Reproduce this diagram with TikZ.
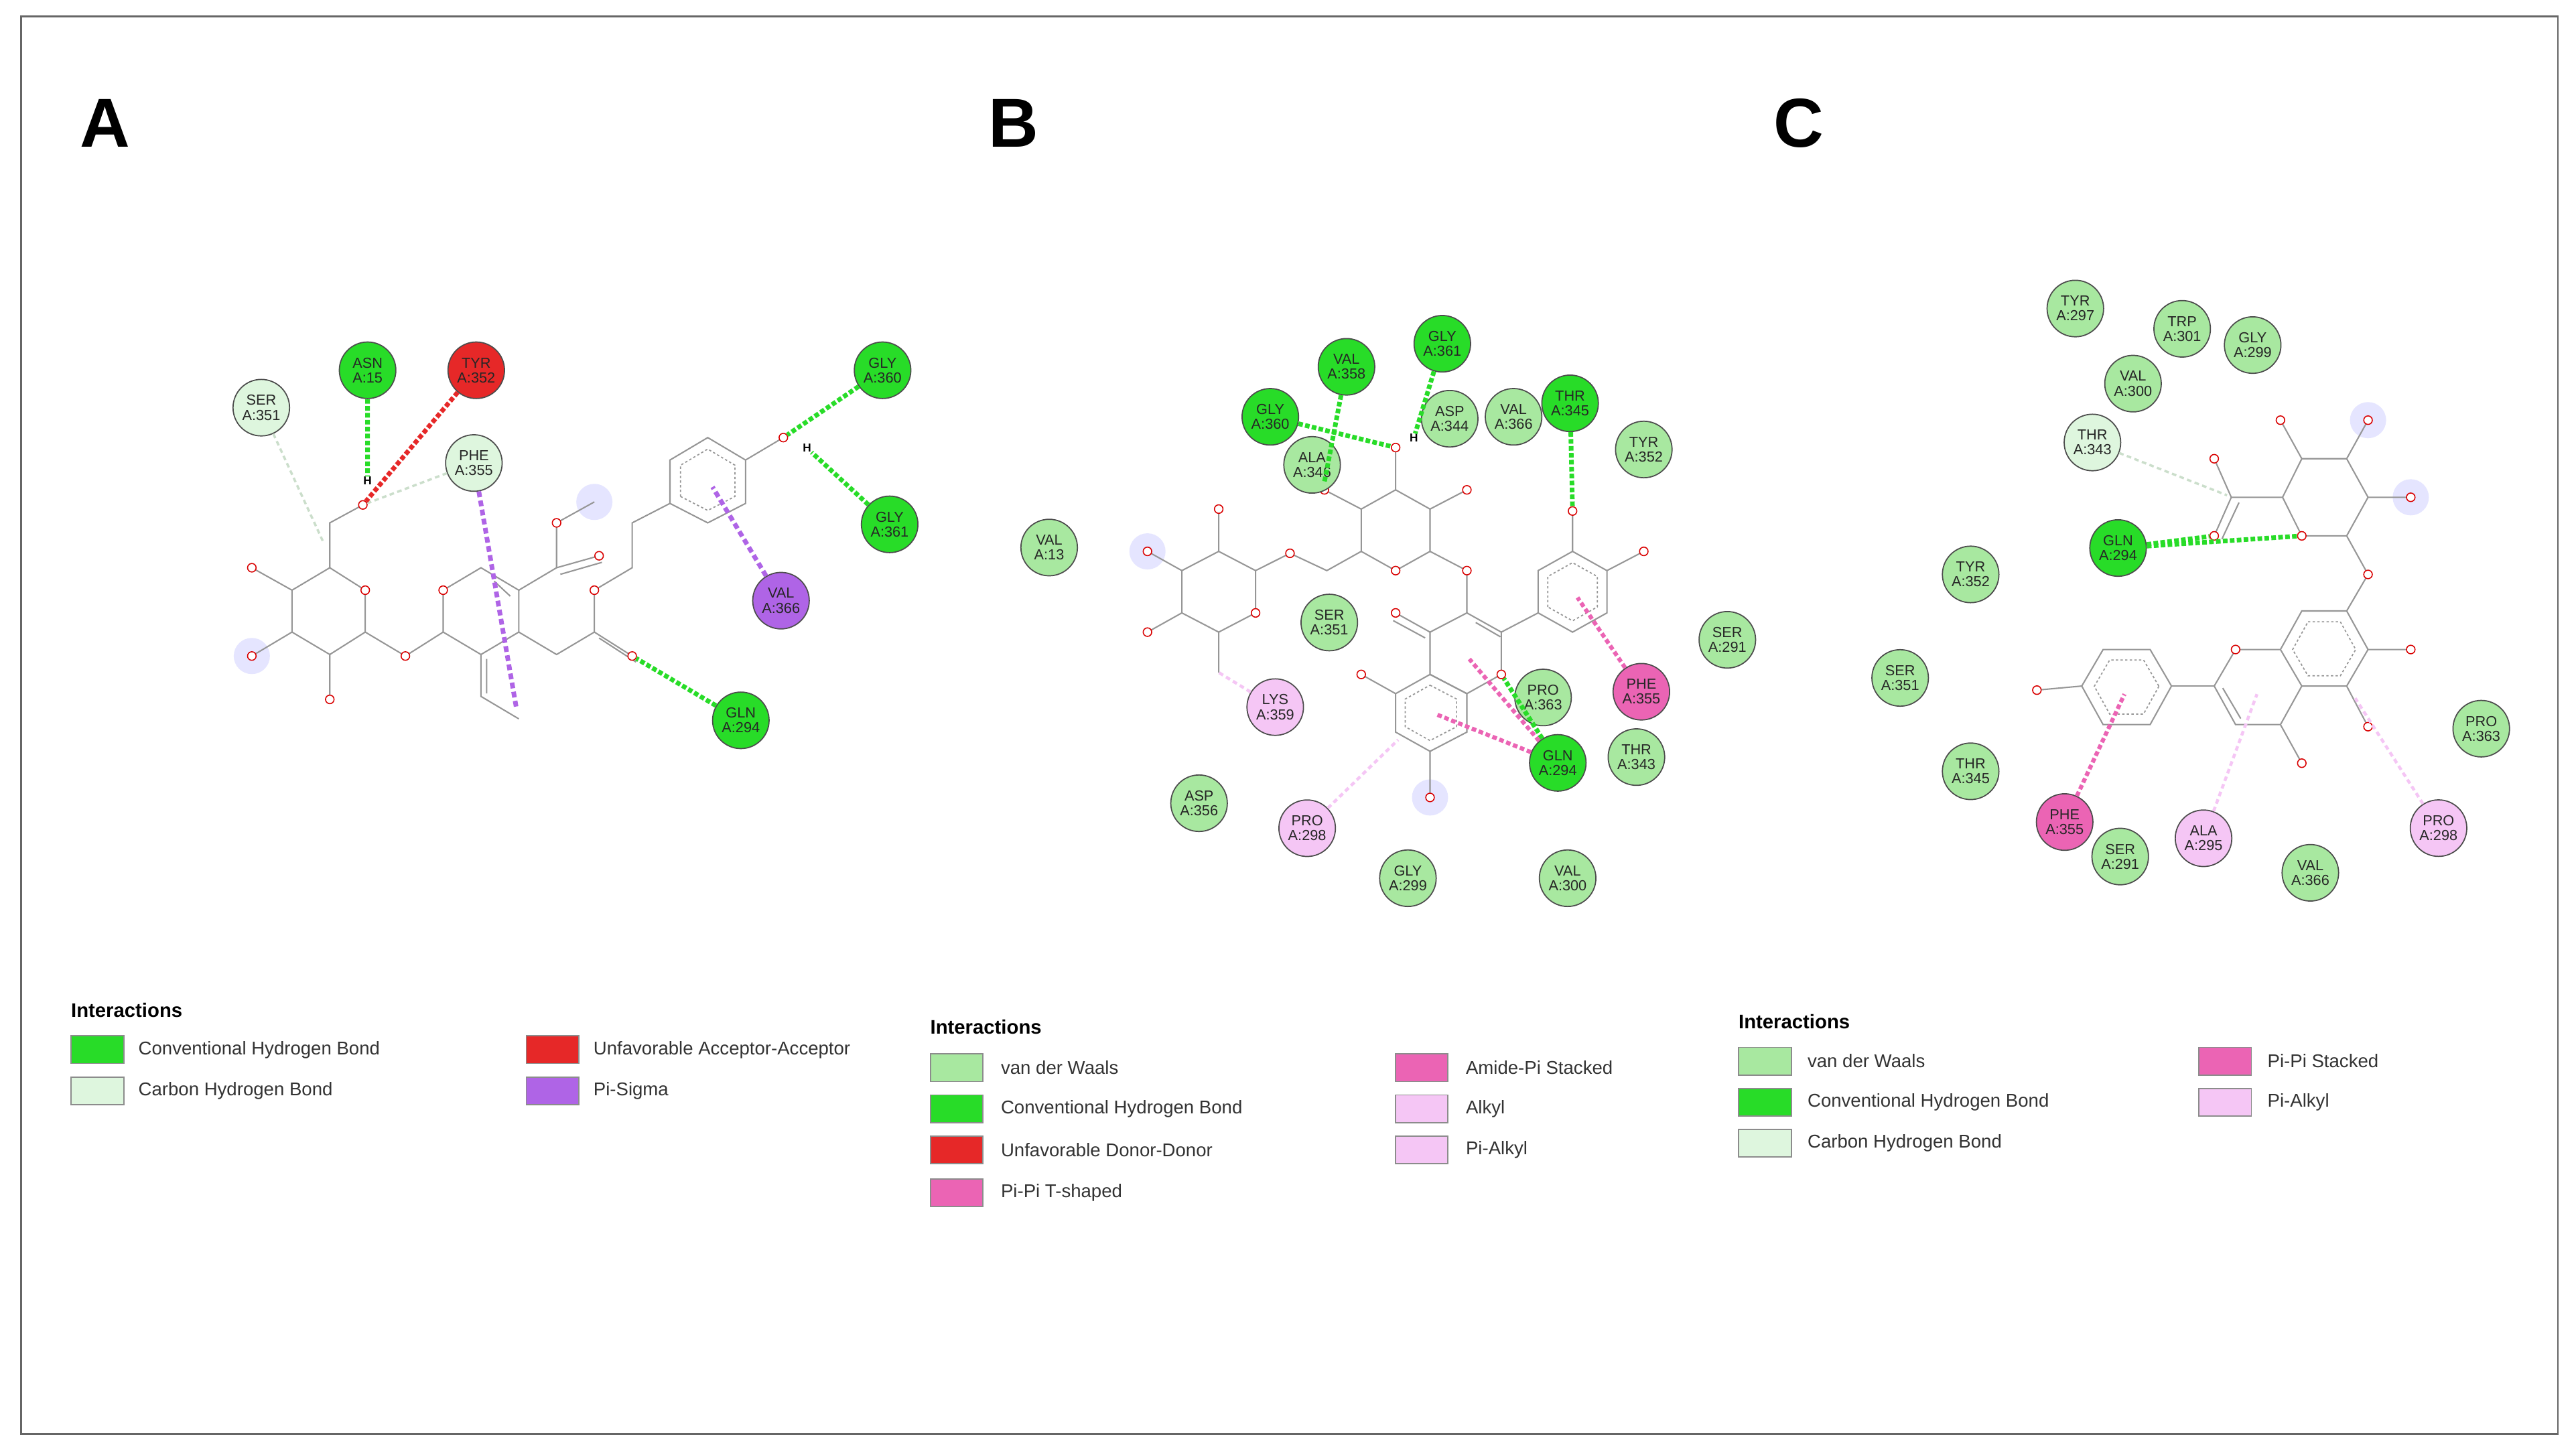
\documentclass[tikz,border=0pt]{standalone}
\usepackage{fontspec}
\setmainfont{Liberation Sans}
\usetikzlibrary{calc}
\definecolor{vdwc}{RGB}{168,232,160}
\definecolor{hbc}{RGB}{40,220,40}
\definecolor{chbc}{RGB}{222,246,222}
\definecolor{redc}{RGB}{230,40,40}
\definecolor{psig}{RGB}{175,100,230}
\definecolor{pipi}{RGB}{235,100,180}
\definecolor{alk}{RGB}{245,198,245}
\definecolor{bondc}{RGB}{150,150,150}
\begin{document}
\begin{tikzpicture}[x=0.025cm, y=-0.025cm,
 res/.style={circle, draw=black!70, line width=0.5pt, minimum size=0.86cm, inner sep=0pt, align=center, font=\fontsize{6.3}{6.4}\selectfont, text=black!85},
 vdw/.style={res, fill=vdwc}, hbr/.style={res, fill=hbc}, chb/.style={res, fill=chbc},
 unf/.style={res, fill=redc}, sig/.style={res, fill=psig}, ppr/.style={res, fill=pipi}, alr/.style={res, fill=alk},
 bond/.style={draw=bondc, line width=0.6pt},
 arom/.style={draw=bondc, line width=0.5pt, dash pattern=on 1pt off 1pt},
 ato/.style={circle, draw=red!85!black, fill=white, line width=0.45pt, minimum size=0.13cm, inner sep=0pt},
 halo/.style={circle, fill=blue!10, minimum size=0.55cm, inner sep=0pt},
 hl/.style={draw=hbc, line width=2pt, dash pattern=on 2pt off 1pt},
 hlf/.style={draw=chbc!80!gray, line width=1pt, dash pattern=on 2pt off 1.5pt},
 rl/.style={draw=redc, line width=2pt, dash pattern=on 2pt off 1pt},
 pl/.style={draw=psig, line width=2pt, dash pattern=on 2.5pt off 1.5pt},
 pkl/.style={draw=pipi, line width=1.8pt, dash pattern=on 2pt off 1.2pt},
 all/.style={draw=alk, line width=1.3pt, dash pattern=on 2pt off 1.5pt},
 hlab/.style={font=\fontsize{5}{5}\selectfont\bfseries, inner sep=0pt},
 sw/.style={draw=black!45, line width=0.5pt, minimum width=0.8cm, minimum height=0.42cm, inner sep=0pt, anchor=west},
 lt/.style={font=\fontsize{8}{8}\selectfont, text=black!80, anchor=west, inner sep=0pt},
 lh/.style={font=\fontsize{8.5}{8.5}\selectfont\bfseries, anchor=west, inner sep=0pt},
 pan/.style={font=\fontsize{30}{30}\selectfont\bfseries, inner sep=0pt}]
\useasboundingbox (0,0) rectangle (1568,883);
\fill[white] (0,0) rectangle (1568,883);
\draw[black!60, line width=0.8pt] (13,10) rectangle (1557,873);
\node[pan] (pA) at (64,75) {A};
\node[pan] (pB) at (617,75) {B};
\node[pan] (pC) at (1095,75) {C};

\begin{scope}[shift={(134.6,183.5)}, xscale=1/3.477, yscale=1/5.49]
\node[halo] (haA1) at (790,670) {};
\node[halo] (haA2) at (65,1185) {};
\draw[bond] (230,890)--(305,965)--(305,1105)--(230,1180)--(150,1105)--(150,965)--cycle;
\draw[bond] (150,965)--(65,890) (150,1105)--(65,1185) (230,1180)--(230,1330) (305,1105)--(390,1185)--(470,1105);
\draw[bond] (230,890)--(230,740)--(300,680);
\draw[bond] (470,1105)--(470,965)--(550,890)--(630,965)--(630,1105)--(550,1180)--cycle;
\draw[bond] (578,935)--(612,985);
\draw[bond] (550,1180)--(550,1320)--(630,1395) (562,1195)--(562,1310);
\draw[bond] (630,965)--(710,890)--(710,740)--(790,670) (710,890)--(800,850) (718,912)--(806,872);
\draw[bond] (630,1105)--(710,1180)--(790,1105)--(870,1185) (800,1125)--(878,1205);
\draw[bond] (790,1105)--(790,965)--(870,890)--(870,740)--(950,675);
\draw[bond] (950,675)--(1030,740)--(1110,675)--(1110,530)--(1030,455)--(950,530)--cycle (1110,530)--(1190,455);
\draw[arom] ($(1030,592)!0.72!(950,675)$)--($(1030,592)!0.72!(1030,740)$)--($(1030,592)!0.72!(1110,675)$)--($(1030,592)!0.72!(1110,530)$)--($(1030,592)!0.72!(1030,455)$)--($(1030,592)!0.72!(950,530)$)--cycle;
\foreach \p in {(65,890),(65,1185),(230,1330),(390,1185),(305,965),(470,965),(710,740),(800,850),(790,965)} \node[ato] at \p {};
\node[ato] (aO6) at (300,680) {};
\node[ato] (aOc) at (870,1185) {};
\node[ato] (aOH) at (1190,455) {};
\node[hlab] (aH) at (310,600) {H};
\node[hlab] (aH2) at (1240,490) {H};
\coordinate (aC6) at (215,800);
\coordinate (aPs) at (625,1360);
\coordinate (aBz) at (1040,620);
\node[chb] (aSER351) at (85,355) {SER\\A:351};
\node[hbr] (aASN15) at (310,230) {ASN\\A:15};
\node[unf] (aTYR352) at (540,230) {TYR\\A:352};
\node[chb] (aPHE355) at (535,540) {PHE\\A:355};
\node[hbr] (aGLY360) at (1400,230) {GLY\\A:360};
\node[hbr] (aGLY361) at (1415,745) {GLY\\A:361};
\node[sig] (aVAL366) at (1185,1000) {VAL\\A:366};
\node[hbr] (aGLN294) at (1100,1400) {GLN\\A:294};
\draw[hlf] (aSER351) -- (aC6);
\draw[hlf] (aPHE355) -- (aO6);
\draw[hl] (aASN15) -- (aH);
\draw[rl] (aTYR352) -- (aO6);
\draw[pl] (aPHE355) -- (aPs);
\draw[pl] (aVAL366) -- (aBz);
\draw[hl] (aGLY360) -- (aOH);
\draw[hl] (aGLY361) -- (aH2);
\draw[hl] (aGLN294) -- (aOc);
\end{scope}

\begin{scope}[shift={(611.7,183.5)}, xscale=1/3.343, yscale=1/4.272]
\node[halo] (haB1) at (865,1290) {};
\node[halo] (haB2) at (290,650) {};
\draw[bond] (435,650)--(510,700)--(510,810)--(435,860)--(360,810)--(360,700)--cycle;
\draw[bond] (435,650)--(435,540) (360,700)--(290,650) (360,810)--(290,860) (435,860)--(435,965);
\draw[bond] (510,700)--(580,655)--(655,700)--(725,650);
\draw[bond] (725,650)--(795,700)--(865,650)--(865,540)--(795,490)--(725,540)--cycle;
\draw[bond] (725,540)--(650,490) (795,490)--(795,380) (865,540)--(940,490) (865,650)--(940,700)--(940,810);
\draw[bond] (940,810)--(1010,860)--(1010,970)--(940,1020)--(865,970)--(865,860)--cycle (958,835)--(1008,872);
\draw[bond] (865,860)--(795,810) (855,875)--(790,830);
\draw[bond] (1010,860)--(1085,810);
\draw[bond] (1085,810)--(1085,700)--(1155,650)--(1225,700)--(1225,810)--(1155,860)--cycle (1155,650)--(1155,545) (1225,700)--(1300,650);
\draw[bond] (865,970)--(940,1020)--(940,1120)--(865,1170)--(795,1120)--(795,1020)--cycle (795,1020)--(725,970) (865,1170)--(865,1290);
\draw[arom] ($(1155,755)!0.72!(1085,810)$)--($(1155,755)!0.72!(1085,700)$)--($(1155,755)!0.72!(1155,650)$)--($(1155,755)!0.72!(1225,700)$)--($(1155,755)!0.72!(1225,810)$)--($(1155,755)!0.72!(1155,860)$)--cycle;
\draw[arom] ($(865,1070)!0.72!(865,970)$)--($(865,1070)!0.72!(940,1020)$)--($(865,1070)!0.72!(940,1120)$)--($(865,1070)!0.72!(865,1170)$)--($(865,1070)!0.72!(795,1120)$)--($(865,1070)!0.72!(795,1020)$)--cycle;
\foreach \p in {(435,540),(290,650),(290,860),(510,810),(580,655),(795,700),(650,490),(940,490),(940,700),(795,810),(1300,650),(725,970),(865,1290)} \node[ato] at \p {};
\node[ato] (bO1) at (1010,970) {};
\node[ato] (bO3) at (795,380) {};
\node[ato] (bO4) at (1155,545) {};
\node[hlab] (bH) at (832,355) {H};
\coordinate (bMe) at (435,965);
\coordinate (bBr) at (1165,770);
\coordinate (bAr) at (880,1075);
\coordinate (bAr2) at (800,1140);
\coordinate (bCr) at (945,930);
\coordinate (bO2) at (650,470);
\node[hbr] (bGLY361) at (890,110) {GLY\\A:361};
\node[hbr] (bVAL358) at (695,170) {VAL\\A:358};
\node[hbr] (bGLY360) at (540,300) {GLY\\A:360};
\node[vdw] (bASP344) at (905,305) {ASP\\A:344};
\node[vdw] (bVAL366) at (1035,300) {VAL\\A:366};
\node[hbr] (bTHR345) at (1150,265) {THR\\A:345};
\node[vdw] (bTYR352) at (1300,385) {TYR\\A:352};
\node[vdw] (bALA346) at (625,425) {ALA\\A:346};
\node[vdw] (bVAL13) at (90,640) {VAL\\A:13};
\node[vdw] (bSER351) at (660,835) {SER\\A:351};
\node[vdw] (bSER291) at (1470,880) {SER\\A:291};
\node[ppr] (bPHE355) at (1295,1015) {PHE\\A:355};
\node[vdw] (bPRO363) at (1095,1030) {PRO\\A:363};
\node[alr] (bLYS359) at (550,1055) {LYS\\A:359};
\node[hbr] (bGLN294) at (1125,1200) {GLN\\A:294};
\node[vdw] (bTHR343) at (1285,1185) {THR\\A:343};
\node[vdw] (bASP356) at (395,1305) {ASP\\A:356};
\node[alr] (bPRO298) at (615,1370) {PRO\\A:298};
\node[vdw] (bGLY299) at (820,1500) {GLY\\A:299};
\node[vdw] (bVAL300) at (1145,1500) {VAL\\A:300};
\draw[hl] (bGLY360) -- (bO3);
\draw[hl] (bVAL358) -- (bO2);
\draw[hl] (bGLY361) -- (bH);
\draw[hl] (bTHR345) -- (bO4);
\draw[hl] (bGLN294) -- (bO1);
\draw[pkl] (bPHE355) -- (bBr);
\draw[pkl] (bGLN294) -- (bAr);
\draw[pkl] (bGLN294) -- (bCr);
\draw[all] (bLYS359) -- (bMe);
\draw[all] (bPRO298) -- (bAr2);
\end{scope}

\begin{scope}[shift={(1121.5,163.1)}, xscale=1/3.845, yscale=1/4.047]
\node[halo] (haC1) at (1230,375) {};
\node[halo] (haC2) at (1330,565) {};
\draw[bond] (1030,565)--(1075,660)--(1180,660)--(1230,565)--(1180,470)--(1075,470)--cycle;
\draw[bond] (1075,470)--(1025,375) (1180,470)--(1230,375) (1230,565)--(1330,565) (1180,660)--(1230,755)--(1180,845);
\draw[bond] (1030,565)--(910,565)--(870,470) (910,565)--(870,660) (928,578)--(888,668);
\draw[bond] (1075,845)--(1180,845)--(1230,940)--(1180,1030)--(1075,1030)--(1025,940)--cycle (1230,940)--(1330,940) (1180,1030)--(1230,1130);
\draw[bond] (1025,940)--(920,940)--(870,1030)--(920,1125)--(1025,1125)--(1075,1030) (1025,1125)--(1075,1220) (890,1035)--(932,1110);
\draw[bond] (870,1030)--(770,1030);
\draw[bond] (770,1030)--(720,1125)--(610,1125)--(560,1030)--(610,940)--(720,940)--cycle (560,1030)--(455,1040);
\draw[arom] ($(1127,940)!0.72!(1075,845)$)--($(1127,940)!0.72!(1180,845)$)--($(1127,940)!0.72!(1230,940)$)--($(1127,940)!0.72!(1180,1030)$)--($(1127,940)!0.72!(1075,1030)$)--($(1127,940)!0.72!(1025,940)$)--cycle;
\draw[arom] ($(665,1032)!0.72!(770,1030)$)--($(665,1032)!0.72!(720,1125)$)--($(665,1032)!0.72!(610,1125)$)--($(665,1032)!0.72!(560,1030)$)--($(665,1032)!0.72!(610,940)$)--($(665,1032)!0.72!(720,940)$)--cycle;
\foreach \p in {(1025,375),(1230,375),(1330,565),(1230,755),(870,470),(1330,940),(1230,1130),(920,940),(1075,1220),(455,1040)} \node[ato] at \p {};
\node[ato] (cO5) at (1075,660) {};
\node[ato] (cOc) at (870,660) {};
\coordinate (cC6) at (900,560);
\coordinate (cBr) at (660,1050);
\coordinate (cCr) at (970,1050);
\coordinate (cAr) at (1200,1060);
\node[vdw] (cTYR297) at (545,100) {TYR\\A:297};
\node[vdw] (cTRP301) at (795,150) {TRP\\A:301};
\node[vdw] (cGLY299) at (960,190) {GLY\\A:299};
\node[vdw] (cVAL300) at (680,285) {VAL\\A:300};
\node[chb] (cTHR343) at (585,430) {THR\\A:343};
\node[hbr] (cGLN294) at (645,690) {GLN\\A:294};
\node[vdw] (cTYR352) at (300,755) {TYR\\A:352};
\node[vdw] (cSER351) at (135,1010) {SER\\A:351};
\node[vdw] (cTHR345) at (300,1240) {THR\\A:345};
\node[ppr] (cPHE355) at (520,1365) {PHE\\A:355};
\node[vdw] (cSER291) at (650,1450) {SER\\A:291};
\node[alr] (cALA295) at (845,1405) {ALA\\A:295};
\node[vdw] (cVAL366) at (1095,1490) {VAL\\A:366};
\node[vdw] (cPRO363) at (1495,1135) {PRO\\A:363};
\node[alr] (cPRO298) at (1395,1380) {PRO\\A:298};
\draw[hlf] (cTHR343) -- (cC6);
\draw[hl] (cGLN294) -- (cO5);
\draw[hl] (cGLN294) -- (cOc);
\draw[pkl] (cPHE355) -- (cBr);
\draw[all] (cALA295) -- (cCr);
\draw[all] (cPRO298) -- (cAr);
\end{scope}

\node[lh] (lA) at (43,615) {Interactions};
\node[sw, fill=hbc] (lA1) at (43,639) {};
\node[lt] (tA1) at (84,639) {Conventional Hydrogen Bond};
\node[sw, fill=chbc] (lA2) at (43,664) {};
\node[lt] (tA2) at (84,664) {Carbon Hydrogen Bond};
\node[sw, fill=redc] (lA3) at (320,639) {};
\node[lt] (tA3) at (361,639) {Unfavorable Acceptor-Acceptor};
\node[sw, fill=psig] (lA4) at (320,664) {};
\node[lt] (tA4) at (361,664) {Pi-Sigma};
\node[lh] (lB) at (566,625) {Interactions};
\node[sw, fill=vdwc] (lB1) at (566,650) {};
\node[lt] (tB1) at (609,650) {van der Waals};
\node[sw, fill=hbc] (lB2) at (566,675) {};
\node[lt] (tB2) at (609,675) {Conventional Hydrogen Bond};
\node[sw, fill=redc] (lB3) at (566,700) {};
\node[lt] (tB3) at (609,700) {Unfavorable Donor-Donor};
\node[sw, fill=pipi] (lB4) at (566,726) {};
\node[lt] (tB4) at (609,726) {Pi-Pi T-shaped};
\node[sw, fill=pipi] (lB5) at (849,650) {};
\node[lt] (tB5) at (892,650) {Amide-Pi Stacked};
\node[sw, fill=alk] (lB6) at (849,675) {};
\node[lt] (tB6) at (892,675) {Alkyl};
\node[sw, fill=alk] (lB7) at (849,700) {};
\node[lt] (tB7) at (892,700) {Pi-Alkyl};
\node[lh] (lC) at (1058,622) {Interactions};
\node[sw, fill=vdwc] (lC1) at (1058,646) {};
\node[lt] (tC1) at (1100,646) {van der Waals};
\node[sw, fill=hbc] (lC2) at (1058,671) {};
\node[lt] (tC2) at (1100,671) {Conventional Hydrogen Bond};
\node[sw, fill=chbc] (lC3) at (1058,696) {};
\node[lt] (tC3) at (1100,696) {Carbon Hydrogen Bond};
\node[sw, fill=pipi] (lC4) at (1338,646) {};
\node[lt] (tC4) at (1380,646) {Pi-Pi Stacked};
\node[sw, fill=alk] (lC5) at (1338,671) {};
\node[lt] (tC5) at (1380,671) {Pi-Alkyl};
\end{tikzpicture}
\end{document}
